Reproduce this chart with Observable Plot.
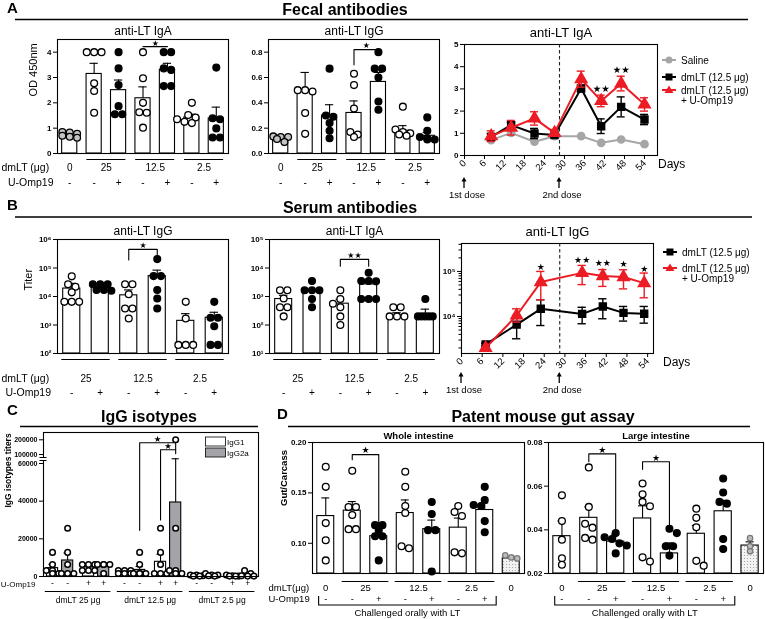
<!DOCTYPE html>
<html><head><meta charset="utf-8">
<script src="https://cdn.jsdelivr.net/npm/d3@7"></script>
<script src="https://cdn.jsdelivr.net/npm/@observablehq/plot@0.6"></script>
<style>
body{margin:0;background:#fff;}
#fig{position:relative;width:765px;height:619px;overflow:hidden;background:#fff;font-family:'Liberation Sans',Arial,Helvetica,sans-serif;will-change:transform;-webkit-font-smoothing:antialiased;}
#fig svg{position:absolute;}
</style></head><body><div id="fig"></div>
<script>
// ================= DATA =================
// Panel A – fecal antibodies (bars)
const A_dose = ["0","25","25","12.5","12.5","2.5","2.5"];
const A_omp  = ["-","-","+","-","+","-","+"];
const fecalIgA_mean = [0.72, 3.14, 2.50, 2.18, 3.30, 1.42, 1.38];
const fecalIgA_sem  = [0.05, 0.42, 0.40, 0.45, 0.26, 0.13, 0.45];
const fecalIgA_points = [
  [0.83, 0.85, 0.78, 0.70, 0.62, 0.66],
  [4.0, 4.0, 4.0, 2.77, 2.47, 1.61],
  [4.0, 3.36, 2.7, 1.87, 1.55, 1.55],
  [4.0, 2.97, 2.0, 1.63, 1.61, 1.02],
  [4.0, 4.0, 3.36, 3.3, 2.66, 2.66],
  [2.0, 1.52, 1.42, 1.35, 1.25, 1.2],
  [3.39, 1.39, 1.35, 0.99, 0.63, 0.63]];
const fecalIgA_brackets = [{from:3, to:4, y:4.22, dl:4.22, dr:4.22, label:"★"}];

const fecalIgG_mean = [0.115, 0.50, 0.30, 0.32, 0.565, 0.18, 0.14];
const fecalIgG_sem  = [0.01, 0.14, 0.085, 0.095, 0.075, 0.04, 0.025];
const fecalIgG_points = [
  [0.135, 0.13, 0.13, 0.115, 0.09],
  [0.50, 0.50, 0.49, 0.32, 0.155],
  [0.67, 0.30, 0.29, 0.24, 0.18, 0.12],
  [0.63, 0.54, 0.355, 0.17, 0.15, 0.13],
  [0.80, 0.67, 0.67, 0.60, 0.41, 0.345],
  [0.37, 0.19, 0.17, 0.16, 0.15, 0.14],
  [0.285, 0.18, 0.13, 0.12, 0.11, 0.11]];
const fecalIgG_brackets = [{from:3, to:4, y:0.82, dl:0.70, dr:0.80, label:"★"}];

// Panel A – fecal IgA kinetics
const A3_days = [8, 14, 21, 27, 35, 41, 47, 54];
const A3_saline = [0.69, 1.02, 0.62, 0.87, 0.87, 0.57, 0.72, 0.51];
const A3_dmLT = [0.84, 1.37, 0.99, 0.92, 3.02, 1.32, 2.19, 1.62];
const A3_dmLT_sem = [0.15, 0.12, 0.23, 0.10, 0.15, 0.33, 0.45, 0.23];
const A3_dmLTU = [0.87, 1.25, 1.67, 1.02, 3.44, 2.46, 3.24, 2.30];
const A3_dmLTU_sem = [0.24, 0.33, 0.30, 0.15, 0.36, 0.26, 0.33, 0.30];
const A3_stars = [{day:41, value:3.0, label:"★★"}, {day:47, value:3.85, label:"★★"}];

// Panel B – serum antibodies (bars, log)
const B_dose = ["25","25","12.5","12.5","2.5","2.5"];
const B_omp  = ["-","+","-","+","-","+"];
const serumIgG_mean = [19000, 21000, 11000, 52000, 1400, 1800];
const serumIgG_sem  = [10000, 2000, 6000, 32000, 1100, 1000];
const serumIgG_points = [
  [51000, 27000, 22000, 14000, 6500, 6500, 6500],
  [27000, 27000, 27000, 17000, 17000, 16000],
  [27000, 27000, 12000, 3800, 3800, 1700],
  [205000, 52000, 52000, 17000, 8500, 3800],
  [6500, 1700, 200, 200, 200],
  [6500, 1800, 1800, 900, 200, 200]];
const serumIgG_brackets = [{from:2, to:3, y:450000, dl:190000, dr:215000, label:"★"}];

const serumIgA_mean = [815, 1550, 560, 2650, 195, 220];
const serumIgA_sem  = [285, 150, 240, 700, 75, 140];
const serumIgA_points = [
  [1650, 1650, 850, 420, 420, 200],
  [3500, 1650, 1650, 1650, 820, 420],
  [1650, 820, 560, 420, 200, 100],
  [6800, 3500, 3500, 3400, 820, 820, 820],
  [420, 420, 200, 200, 200],
  [820, 200, 200, 200, 200, 200]];
const serumIgA_brackets = [{from:2, to:3, y:20000, dl:11500, dr:11500, label:"★★"}];

// Panel B – serum IgG kinetics (log)
const B3_days = [7, 16, 23, 35, 41, 47, 53];
const B3_dmLT = [2400, 6600, 14800, 11400, 16700, 12000, 11500];
const B3_dmLT_lo = [2250, 3200, 6300, 6900, 8900, 7900, 7100];
const B3_dmLT_hi = [2550, 10500, 23500, 16000, 24700, 16700, 16700];
const B3_dmLTU = [2000, 10500, 58000, 93000, 79000, 75000, 55000];
const B3_dmLTU_lo = [1900, 7500, 23500, 51000, 46500, 41000, 26000];
const B3_dmLTU_hi = [2100, 14800, 100000, 136000, 110000, 109000, 92000];
const B3_stars = [{day:23, value:125000, label:"★"}, {day:35, value:174000, label:"★★"},
  {day:41, value:155000, label:"★★"}, {day:47, value:143000, label:"★"}, {day:53, value:111000, label:"★"}];

// Panel C – IgG isotypes
const C_dose = ["25","25","25","25","12.5","12.5","12.5","12.5","2.5","2.5","2.5","2.5"];
const C_omp  = ["-","-","+","+","-","-","+","+","-","-","+","+"];
const C_iso  = ["IgG1","IgG2a","IgG1","IgG2a","IgG1","IgG2a","IgG1","IgG2a","IgG1","IgG2a","IgG1","IgG2a"];
const C_mean = [4450, 8500, 4800, 5440, 2400, 3500, 7800, 39300, 480, 760, 360, 1120];
const C_sem  = [2000, 4000, 900, 900, 400, 1800, 4000, 41700, 150, 250, 120, 550];
const C_points = [
  [12800, 6400, 3200, 3200, 1600, 1600],
  [25600, 12800, 6400, 1600, 1600, 1600],
  [6400, 6400, 6400, 3200, 3200, 3200],
  [6400, 6400, 6400, 6400, 1600],
  [3200, 3200, 3200, 1600, 1600, 1600],
  [12800, 6400, 1600, 1600, 1600, 1600],
  [25600, 12800, 6400, 1600, 1600, 1600],
  [200000, 25600, 3200, 3200, 1600, 1600],
  [800, 800, 400, 200, 200],
  [1600, 800, 800, 400, 200],
  [800, 400, 200, 200, 200],
  [3200, 1600, 400, 200, 200]];
const C_brackets = [{from:5, to:7, y:179600, dl:24500, dr:132000, label:"★"},
                    {from:6, to:7, y:132000, dl:30000, dr:105000, label:"★"}];
const C_ticks = [0, 20000, 40000, 60000, 100000, 200000];

// Panel D – patent mouse gut assay
const D_dose = ["0","25","25","12.5","12.5","2.5","2.5","0"];
const D_omp  = ["-","-","+","-","+","-","+",""];
const whole_mean = [0.127, 0.1324, 0.107, 0.130, 0.114, 0.1155, 0.133, 0.085];
const whole_sem  = [0.018, 0.009, 0.013, 0.013, 0.009, 0.0095, 0.007, 0.002];
const whole_points = [
  [0.176, 0.156, 0.120, 0.103, 0.083],
  [0.172, 0.136, 0.136, 0.128, 0.114, 0.114],
  [0.118, 0.118, 0.113, 0.107, 0.107, 0.083],
  [0.171, 0.156, 0.137, 0.130, 0.097, 0.095],
  [0.141, 0.129, 0.113, 0.113, 0.072],
  [0.137, 0.131, 0.127, 0.091, 0.090],
  [0.156, 0.143, 0.138, 0.137, 0.122, 0.111],
  [0.088, 0.086, 0.085]];
const whole_brackets = [{from:1, to:2, y:0.188, dl:0.183, dr:0.121, label:"★"}];
const large_mean = [0.0371, 0.0455, 0.0346, 0.0452, 0.0292, 0.0382, 0.0485, 0.0328];
const large_sem  = [0.0069, 0.005, 0.0034, 0.0058, 0.0048, 0.0038, 0.005, 0.0017];
const large_points = [
  [0.0558, 0.044, 0.0355, 0.027, 0.024],
  [0.0686, 0.0505, 0.0428, 0.041, 0.0363, 0.0355],
  [0.0385, 0.0366, 0.0358, 0.0338, 0.0328, 0.0292],
  [0.0612, 0.0563, 0.0528, 0.0508, 0.0274, 0.0255],
  [0.0405, 0.0385, 0.0325, 0.0325, 0.0282],
  [0.0497, 0.0455, 0.0412, 0.0258, 0.0236],
  [0.0635, 0.0571, 0.0528, 0.052, 0.0358, 0.0312],
  [0.0362, 0.0325, 0.0302]];
const large_brackets = [{from:1, to:2, y:0.0748, dl:0.0712, dr:0.0397, label:"★"},
                        {from:3, to:4, y:0.0712, dl:0.0677, dr:0.0415, label:"★"}];

// ================= HELPERS =================
const FONT = "'Liberation Sans', Arial, Helvetica, sans-serif";
const STAR = "'DejaVu Sans', sans-serif";
const fig = document.getElementById("fig");
const sup = {"1":"¹","2":"²","3":"³","4":"⁴","5":"⁵","6":"⁶"};
const powFmt = v => "10" + sup[Math.round(Math.log10(v))];
const NS = "http://www.w3.org/2000/svg";

const defs = document.createElementNS(NS, "svg");
defs.setAttribute("width", 0); defs.setAttribute("height", 0);
defs.innerHTML = `<defs><pattern id="dots" width="3" height="3" patternUnits="userSpaceOnUse">
<rect width="3" height="3" fill="#f2f2f2"/><circle cx="1.5" cy="1.5" r="0.55" fill="#9a9a9a"/></pattern></defs>`;
fig.appendChild(defs);

function place(svg, left, top) {
  svg.style.left = left + "px"; svg.style.top = top + "px";
  fig.appendChild(svg);
}

function placeDots(vals, yS, r) {
  const items = vals.map(v => ({v, y: yS(v), off: 0})).sort((a, b) => a.y - b.y);
  const rows = [];
  for (const it of items) {
    const row = rows[rows.length - 1];
    if (row && row.length < 3 && Math.abs(it.y - row[0].y) < 1.2 * r) row.push(it);
    else rows.push([it]);
  }
  const gap = 2 * r + 0.6, placed = [];
  for (const row of rows) {
    const base = row.map((it, j) => (j - (row.length - 1) / 2) * gap);
    let shift = 0;
    for (const s of [0, gap / 2, -gap / 2, gap, -gap]) {
      const ok = row.every((it, j) => placed.every(p => Math.hypot(p.off - (base[j] + s), p.y - it.y) >= 2 * r - 0.5));
      if (ok) { shift = s; break; }
    }
    row.forEach((it, j) => { it.off = base[j] + shift; placed.push(it); });
  }
  return items;
}

function barPanel(o) {
  const [bl, bt, bw, bh] = o.box, [L, T, R, B] = o.frame;
  const n = o.means.length;
  const xs = o.xs || d3.range(n);
  const xDom = o.xDomain || [-0.5, n - 0.5];
  const ppx = (R - L) / (xDom[1] - xDom[0]);
  const yRange = (o.yRangePage || [B, T]).map(v => v - bt);
  const yS = (o.yType === "log" ? d3.scaleLog() : d3.scaleLinear()).domain(o.yDomain).range(yRange);
  const base = o.yDomain[0];
  const bars = o.means.map((m, i) => ({x: xs[i], m, s: o.sems[i], fill: o.barFill(i)}));
  const pts = [];
  o.points.forEach((vals, i) => {
    const r = o.ptR ? o.ptR(i) : o.r;
    placeDots(vals, yS, r).forEach(p =>
      pts.push({x: xs[i] + p.off / ppx, v: p.v, r, fill: o.ptFill(i), stroke: o.ptStroke ? o.ptStroke(i) : "black"}));
  });
  const groups = [];
  o.dose.forEach((d, i) => {
    const g = groups[groups.length - 1];
    if (g && g.key === d && g.end === i - 1) g.end = i; else groups.push({key: d, start: i, end: i});
  });
  groups.forEach(g => {
    g.x = (xs[g.start] + xs[g.end]) / 2; g.x1 = xs[g.start] - o.lineExt; g.x2 = xs[g.end] + o.lineExt;
    g.label = o.groupLabel ? o.groupLabel(g.key) : g.key;
  });
  const omps = o.omp.map((t, i) => ({x: xs[i], t})).filter(d => d.t);
  const brs = (o.brackets || []).map((b, k) => ({...b, k, xm: (xs[b.from] + xs[b.to]) / 2}));
  const brPts = brs.flatMap(b => [{k: b.k, x: xs[b.from], y: b.dl}, {k: b.k, x: xs[b.from], y: b.y},
                                   {k: b.k, x: xs[b.to], y: b.y}, {k: b.k, x: xs[b.to], y: b.dr}]);
  const hw = o.barHalf, cw = o.capHalf, sw = 1.1;
  const marks = [
    Plot.rect(bars, {x1: d => d.x - hw, x2: d => d.x + hw, y1: () => base, y2: "m", fill: "fill", stroke: "black", strokeWidth: sw}),
    Plot.ruleX(bars, {x: "x", y1: "m", y2: d => d.m + d.s, stroke: "black", strokeWidth: sw}),
    Plot.ruleY(bars, {y: d => d.m + d.s, x1: d => d.x - cw, x2: d => d.x + cw, stroke: "black", strokeWidth: sw})
  ];
  for (const [r, group] of d3.group(pts, d => d.r))
    marks.push(Plot.dot(group, {x: "x", y: "v", r, fill: "fill", stroke: "stroke", strokeWidth: o.ptSw || 1.3}));
  marks.push(
    Plot.line(brPts, {x: "x", y: "y", z: "k", stroke: "black", strokeWidth: sw}),
    Plot.text(brs, {x: "xm", y: "y", text: "label", dy: o.starDy || -4, fontSize: o.starSize || 9, fontFamily: STAR, lineAnchor: "middle"}),
    Plot.frame({stroke: "black", strokeWidth: sw}),
    Plot.axisY({ticks: o.yTicks, tickFormat: o.yFmt, tickSize: 4, tickPadding: 2, fontSize: o.tickFont || 8, fontWeight: "bold", label: null}),
    Plot.ruleY(groups.filter(g => g.end > g.start), {x1: "x1", x2: "x2", y: () => base, dy: o.lineDy, stroke: "black", strokeWidth: 1}),
    Plot.text(groups, {x: "x", text: "label", frameAnchor: "bottom", dy: o.doseDy, fontSize: o.catFont, lineAnchor: "middle", fill: "black"}),
    Plot.text(omps, {x: "x", text: "t", frameAnchor: "bottom", dy: o.ompDy, fontSize: o.catFont, lineAnchor: "middle", fill: "black"})
  );
  if (o.title) marks.push(Plot.text([o.title], {text: d => d, frameAnchor: "top", dy: o.titleDy || -7,
    fontSize: o.titleFont || 12, fontWeight: o.titleWeight || "normal", lineAnchor: "middle"}));
  if (o.ylabel) marks.push(Plot.text([o.ylabel], {text: d => d, frameAnchor: "left", rotate: -90, dx: o.ylabelDx,
    dy: o.ylabelDy || 0, fontSize: o.ylabelFont || 11, fontWeight: o.ylabelWeight || "normal", lineAnchor: "middle"}));
  for (const rl of (o.rowLabels || [])) marks.push(Plot.text([rl.text], {text: d => d, frameAnchor: "bottom-left",
    dx: rl.dx, dy: rl.dy, textAnchor: rl.anchor, fontSize: rl.size, lineAnchor: "middle"}));
  const svg = Plot.plot({
    width: bw, height: bh,
    marginLeft: L - bl, marginRight: bl + bw - R, marginTop: T - bt, marginBottom: bt + bh - B,
    x: {type: "linear", domain: xDom, axis: null},
    y: {type: o.yType || "linear", domain: o.yDomain, range: yRange, label: null},
    color: {type: "identity"},
    style: {fontFamily: FONT, fontSize: "10px", background: "transparent", overflow: "visible", color: "black"},
    marks
  });
  place(svg, bl, bt);
  return {xPage: v => L + (v - xDom[0]) * ppx};
}

function tsPanel(o) {
  const [bl, bt, bw, bh] = o.box, [L, T, R, B] = o.frame;
  const marks = [Plot.ruleX([o.doseDay], {stroke: "#222", strokeWidth: 1.1, strokeDasharray: "3.5,2.5"})];
  for (const s of o.series) {
    const d = s.days.map((day, i) => ({day, m: s.mean[i], lo: s.lo ? s.lo[i] : null, hi: s.hi ? s.hi[i] : null}));
    if (s.lo) marks.push(
      Plot.ruleX(d, {x: "day", y1: "lo", y2: "hi", stroke: s.color, strokeWidth: 1.4}),
      Plot.ruleY(d, {y: "lo", x1: e => e.day - o.cap, x2: e => e.day + o.cap, stroke: s.color, strokeWidth: 1.4}),
      Plot.ruleY(d, {y: "hi", x1: e => e.day - o.cap, x2: e => e.day + o.cap, stroke: s.color, strokeWidth: 1.4}));
    marks.push(Plot.line(d, {x: "day", y: "m", stroke: s.color, strokeWidth: 2}));
    marks.push(Plot.dot(d, {x: "day", y: "m", symbol: s.symbol, r: s.r, fill: s.color, stroke: s.color}));
  }
  marks.push(
    Plot.text(o.stars, {x: "day", y: "value", text: "label", fontSize: o.starSize, fontFamily: STAR, lineAnchor: "middle"}),
    Plot.frame({stroke: "black", strokeWidth: 1.1}),
    Plot.axisY({ticks: o.yTicks, tickFormat: o.yFmt, tickSize: 4, tickPadding: 2, fontSize: 8, fontWeight: "bold", label: null}),
    Plot.axisX({ticks: d3.range(0, 55, 6), tickRotate: -45, tickSize: 4, tickPadding: 2, fontSize: 9.5, label: null}),
    Plot.text([o.title], {text: d => d, frameAnchor: "top", dy: o.titleDy, fontSize: 13, lineAnchor: "middle"})
  );
  if (o.minor) marks.push(Plot.axisY({ticks: o.minor, tickFormat: () => "", tickSize: 2.5, label: null}));
  const svg = Plot.plot({
    width: bw, height: bh,
    marginLeft: L - bl, marginRight: bl + bw - R, marginTop: T - bt, marginBottom: bt + bh - B,
    x: {type: "linear", domain: o.xDomain, label: null},
    y: {type: o.yType || "linear", domain: o.yDomain, label: null},
    style: {fontFamily: FONT, fontSize: "10px", background: "transparent", overflow: "visible", color: "black"},
    marks
  });
  place(svg, bl, bt);
  return {xPage: v => L + (v - o.xDomain[0]) * (R - L) / (o.xDomain[1] - o.xDomain[0])};
}

// ================= PANELS =================
const fillA = (dose, omp) => i => dose[i] === "0" ? "#c4c4c4" : omp[i] === "+" ? "black" : "white";

barPanel({box: [0, 20, 235, 180], frame: [57, 39, 228, 153], means: fecalIgA_mean, sems: fecalIgA_sem,
  points: fecalIgA_points, dose: A_dose, omp: A_omp, yDomain: [0, 4.5], yTicks: [0, 1, 2, 3, 4],
  yFmt: d3.format("d"), barFill: () => "white", ptFill: fillA(A_dose, A_omp), r: 3.4,
  barHalf: 0.31, capHalf: 0.17, lineExt: 0.3, lineDy: 6, doseDy: 14, ompDy: 29, catFont: 10,
  brackets: fecalIgA_brackets, starDy: -3, starSize: 8, title: "anti-LT IgA", titleDy: -8, ylabel: "OD 450nm", ylabelDx: -24,
  rowLabels: [{text: "dmLT (μg)", dx: -56, dy: 14, anchor: "start", size: 10.5},
              {text: "U-Omp19", dx: -4, dy: 29, anchor: "end", size: 10.5}]});

barPanel({box: [240, 20, 205, 180], frame: [268, 39, 439, 153], means: fecalIgG_mean, sems: fecalIgG_sem,
  points: fecalIgG_points, dose: A_dose, omp: A_omp, yDomain: [0, 0.9], yTicks: [0, 0.2, 0.4, 0.6, 0.8],
  yFmt: d3.format(".1f"), barFill: () => "white", ptFill: fillA(A_dose, A_omp), r: 3.4,
  barHalf: 0.31, capHalf: 0.17, lineExt: 0.3, lineDy: 6, doseDy: 14, ompDy: 29, catFont: 10,
  brackets: fecalIgG_brackets, starSize: 8, title: "anti-LT IgG", titleDy: -8});

const A3 = tsPanel({box: [440, 20, 240, 180], frame: [464, 44, 657, 155], xDomain: [0, 57.9], yDomain: [0, 5],
  yTicks: [0, 1, 2, 3, 4, 5], yFmt: d3.format("d"), doseDay: 28.5, cap: 1.2, starSize: 9.5, titleDy: -12,
  title: "anti-LT IgA", stars: A3_stars,
  series: [
    {days: A3_days, mean: A3_saline, color: "#a6a6a6", symbol: "circle", r: 3.6},
    {days: A3_days, mean: A3_dmLT, lo: A3_dmLT.map((m, i) => m - A3_dmLT_sem[i]), hi: A3_dmLT.map((m, i) => m + A3_dmLT_sem[i]), color: "black", symbol: "square", r: 3.9},
    {days: A3_days, mean: A3_dmLTU, lo: A3_dmLTU.map((m, i) => m - A3_dmLTU_sem[i]), hi: A3_dmLTU.map((m, i) => m + A3_dmLTU_sem[i]), color: "#ec1c24", symbol: "triangle", r: 4.3}]});

const fillB = omp => i => omp[i] === "+" ? "black" : "white";
barPanel({box: [0, 218, 235, 180], frame: [57, 239, 228, 353], means: serumIgG_mean, sems: serumIgG_sem,
  points: serumIgG_points, dose: B_dose, omp: B_omp, yType: "log", yDomain: [1e2, 1e6],
  yTicks: [1e2, 1e3, 1e4, 1e5, 1e6], yFmt: powFmt, barFill: () => "white", ptFill: fillB(B_omp), r: 3.4,
  barHalf: 0.3, capHalf: 0.15, lineExt: 0.35, lineDy: 6, doseDy: 25, ompDy: 39, catFont: 10,
  brackets: serumIgG_brackets, starSize: 8, title: "anti-LT IgG", titleDy: -8, ylabel: "Titer", ylabelDx: -29, ylabelDy: -6,
  rowLabels: [{text: "dmLT (μg)", dx: -56, dy: 25, anchor: "start", size: 10.5},
              {text: "U-Omp19", dx: -52, dy: 39, anchor: "start", size: 10.5}]});

barPanel({box: [240, 218, 205, 180], frame: [269, 239, 439, 353], means: serumIgA_mean, sems: serumIgA_sem,
  points: serumIgA_points, dose: B_dose, omp: B_omp, yType: "log", yDomain: [1e1, 1e5],
  yTicks: [1e1, 1e2, 1e3, 1e4, 1e5], yFmt: powFmt, barFill: () => "white", ptFill: fillB(B_omp), r: 3.4,
  barHalf: 0.3, capHalf: 0.15, lineExt: 0.35, lineDy: 6, doseDy: 25, ompDy: 39, catFont: 10,
  brackets: serumIgA_brackets, starSize: 8, title: "anti-LT IgA", titleDy: -8});

const B3 = tsPanel({box: [440, 218, 240, 180], frame: [461, 243, 653, 353], xDomain: [0, 55.7], yType: "log",
  yDomain: [1507, 417000], yTicks: [1e4, 1e5], yFmt: powFmt, doseDay: 28.5, cap: 1.2, starSize: 9, titleDy: -12,
  minor: [2000, 3000, 4000, 5000, 6000, 7000, 8000, 9000, 20000, 30000, 40000, 50000, 60000, 70000, 80000, 90000, 200000, 300000, 400000],
  title: "anti-LT IgG", stars: B3_stars,
  series: [
    {days: B3_days, mean: B3_dmLT, lo: B3_dmLT_lo, hi: B3_dmLT_hi, color: "black", symbol: "square", r: 3.9},
    {days: B3_days, mean: B3_dmLTU, lo: B3_dmLTU_lo, hi: B3_dmLTU_hi, color: "#ec1c24", symbol: "triangle", r: 4.3}]});

const C_pair = C_dose.map((d, i) => Math.floor(i / 2));
barPanel({box: [0, 428, 262, 190], frame: [43, 432, 258, 576], means: C_mean, sems: C_sem, points: C_points,
  dose: C_dose, omp: C_omp, xs: C_iso.map((t, i) => C_pair[i] + (t === "IgG2a" ? 0.42 : 0)), xDomain: [-0.25, 5.72],
  yDomain: [0, 60000, 100000, 200000, 280000], yRangePage: [576, 463, 454, 439.3, 432],
  yTicks: C_ticks, yFmt: d3.format("d"), barFill: i => C_iso[i] === "IgG2a" ? "#a3a3a8" : "white",
  ptFill: () => "white", r: 2.8, ptSw: 1.5, barHalf: 0.155, capHalf: 0.1, lineExt: 0.2,
  lineDy: 15, doseDy: 24, ompDy: 6.5, catFont: 8.5, tickFont: 7, groupLabel: d => `dmLT ${d} μg`,
  brackets: C_brackets, starSize: 8.5, ylabel: "IgG isotypes titers", ylabelDx: -35, ylabelDy: 3, ylabelFont: 8.5, ylabelWeight: "bold",
  rowLabels: [{text: "U-Omp19", dx: -8, dy: 7.5, anchor: "end", size: 8}]});

const fillD = omp => i => omp[i] === "" ? "#bdbdbd" : omp[i] === "+" ? "black" : "white";
const strokeD = omp => i => omp[i] === "" ? "#7a7a7a" : "black";
const radD = omp => i => omp[i] === "" ? 2.7 : 3.4;
const D1 = barPanel({box: [262, 428, 265, 190], frame: [312, 442, 524, 573], means: whole_mean, sems: whole_sem,
  points: whole_points, dose: D_dose, omp: D_omp, yDomain: [0.07, 0.2], yTicks: [0.10, 0.15, 0.20],
  yFmt: d3.format(".2f"), barFill: i => D_omp[i] === "" ? "url(#dots)" : "white", ptFill: fillD(D_omp),
  ptStroke: strokeD(D_omp), ptR: radD(D_omp), r: 3.4, barHalf: 0.32, capHalf: 0.15, lineExt: 0.38, lineDy: 8, doseDy: 14, ompDy: 25,
  catFont: 9.5, brackets: whole_brackets, starSize: 9, title: "Whole intestine", titleFont: 9.5, titleWeight: "bold",
  ylabel: "Gut/Carcass", ylabelDx: -29, ylabelDy: -2, ylabelFont: 9.5, ylabelWeight: "bold",
  rowLabels: [{text: "dmLT(μg)", dx: -44, dy: 14, anchor: "start", size: 9.5},
              {text: "U-Omp19", dx: -44, dy: 25, anchor: "start", size: 9.5}]});

const D2 = barPanel({box: [527, 428, 238, 190], frame: [548, 442, 763, 573], means: large_mean, sems: large_sem,
  points: large_points, dose: D_dose, omp: D_omp, yDomain: [0.02, 0.08], yTicks: [0.02, 0.04, 0.06, 0.08],
  yFmt: d3.format(".2f"), barFill: i => D_omp[i] === "" ? "url(#dots)" : "white", ptFill: fillD(D_omp),
  ptStroke: strokeD(D_omp), ptR: radD(D_omp), r: 3.4, barHalf: 0.32, capHalf: 0.15, lineExt: 0.38, lineDy: 8, doseDy: 14, ompDy: 25,
  catFont: 9.5, brackets: large_brackets, starSize: 9, title: "Large intestine", titleFont: 9.5, titleWeight: "bold"});

// ================= OVERLAY (headings, legends, annotations) =================
const ov = document.createElementNS(NS, "svg");
ov.setAttribute("width", 765); ov.setAttribute("height", 619);
ov.style.left = "0px"; ov.style.top = "0px"; ov.style.pointerEvents = "none";
ov.setAttribute("font-family", "Liberation Sans, Arial, sans-serif");
function el(tag, attrs, text) {
  const e = document.createElementNS(NS, tag);
  for (const k in attrs) e.setAttribute(k, attrs[k]);
  if (text != null) e.textContent = text;
  ov.appendChild(e); return e;
}
const panelLetters = [["A", 7, 13], ["B", 7, 210], ["C", 7, 415], ["D", 277, 419]];
for (const [t, x, y] of panelLetters) el("text", {x, y, "font-size": 15, "font-weight": "bold"}, t);
const sectionTitles = [["Fecal antibodies", 345, 15, 15, 748, 19.5], ["Serum antibodies", 350, 213, 15, 752, 217],
  ["IgG isotypes", 149, 422, 20, 258, 426.5], ["Patent mouse gut assay", 543, 422, 288, 750, 426.5]];
for (const [t, x, y, x1, x2, ly] of sectionTitles) {
  el("text", {x, y, "font-size": 16, "font-weight": "bold", "text-anchor": "middle"}, t);
  el("line", {x1, x2, y1: ly, y2: ly, stroke: "black", "stroke-width": 1.6});
}
function legendItem(x, y, color, sym, lines) {
  el("line", {x1: x, x2: x + 14, y1: y, y2: y, stroke: color, "stroke-width": 2});
  const cx = x + 7;
  if (sym === "circle") el("circle", {cx, cy: y, r: 3.5, fill: color});
  if (sym === "square") el("rect", {x: cx - 3.5, y: y - 3.5, width: 7, height: 7, fill: color});
  if (sym === "triangle") el("polygon", {points: `${cx},${y - 4.5} ${cx + 4.5},${y + 3} ${cx - 4.5},${y + 3}`, fill: color});
  lines.forEach((t, k) => el("text", {x: x + 19, y: y + 3.5 + k * 10.5, "font-size": 10}, t));
}
legendItem(662, 60, "#a6a6a6", "circle", ["Saline"]);
legendItem(662, 77, "black", "square", ["dmLT (12.5 μg)"]);
legendItem(662, 90, "#ec1c24", "triangle", ["dmLT (12.5 μg)", "+ U-Omp19"]);
legendItem(663, 252, "black", "square", ["dmLT (12.5 μg)"]);
legendItem(663, 268, "#ec1c24", "triangle", ["dmLT (12.5 μg)", "+ U-Omp19"]);
el("text", {x: 658, y: 168, "font-size": 12}, "Days");
el("text", {x: 663, y: 366, "font-size": 12}, "Days");
const doses = [[0, "1st dose"], [28.5, "2nd dose"]];
for (const [panel, y0] of [[A3, 177], [B3, 372]]) {
  for (const [day, t] of doses) {
    const x = panel.xPage(day);
    el("line", {x1: x, x2: x, y1: y0 + 3, y2: y0 + 11, stroke: "black", "stroke-width": 1.3});
    el("polygon", {points: `${x},${y0} ${x + 2.5},${y0 + 4.5} ${x - 2.5},${y0 + 4.5}`, fill: "black"});
    el("text", {x: x + 3, y: y0 + 20.5, "font-size": 9.5, "text-anchor": "middle"}, t);
  }
}
const C_legend = [["IgG1", "white"], ["IgG2a", "#a3a3a8"]];
C_legend.forEach(([t, f], k) => {
  el("rect", {x: 205.5, y: 437 + k * 11, width: 20, height: 9, fill: f, stroke: "black", "stroke-width": 0.8});
  el("text", {x: 227, y: 444.5 + k * 11, "font-size": 8}, t);
});
el("rect", {x: 40, y: 457.5, width: 6, height: 3, fill: "white"});
el("line", {x1: 39.5, x2: 46.5, y1: 457.5, y2: 457.5, stroke: "black", "stroke-width": 1});
el("line", {x1: 39.5, x2: 46.5, y1: 460.5, y2: 460.5, stroke: "black", "stroke-width": 1});
for (const P of [D1, D2]) {
  const x1 = P.xPage(-0.25), x2 = P.xPage(6.45), xm = P.xPage(3.1);
  el("polyline", {points: `${x1},596 ${x1},605 ${x2},605 ${x2},596`, fill: "none", stroke: "black", "stroke-width": 1.1});
  el("text", {x: xm, y: 616, "font-size": 9.5, "text-anchor": "middle"}, "Challenged orally with LT");
}
fig.appendChild(ov);
</script></body></html>
